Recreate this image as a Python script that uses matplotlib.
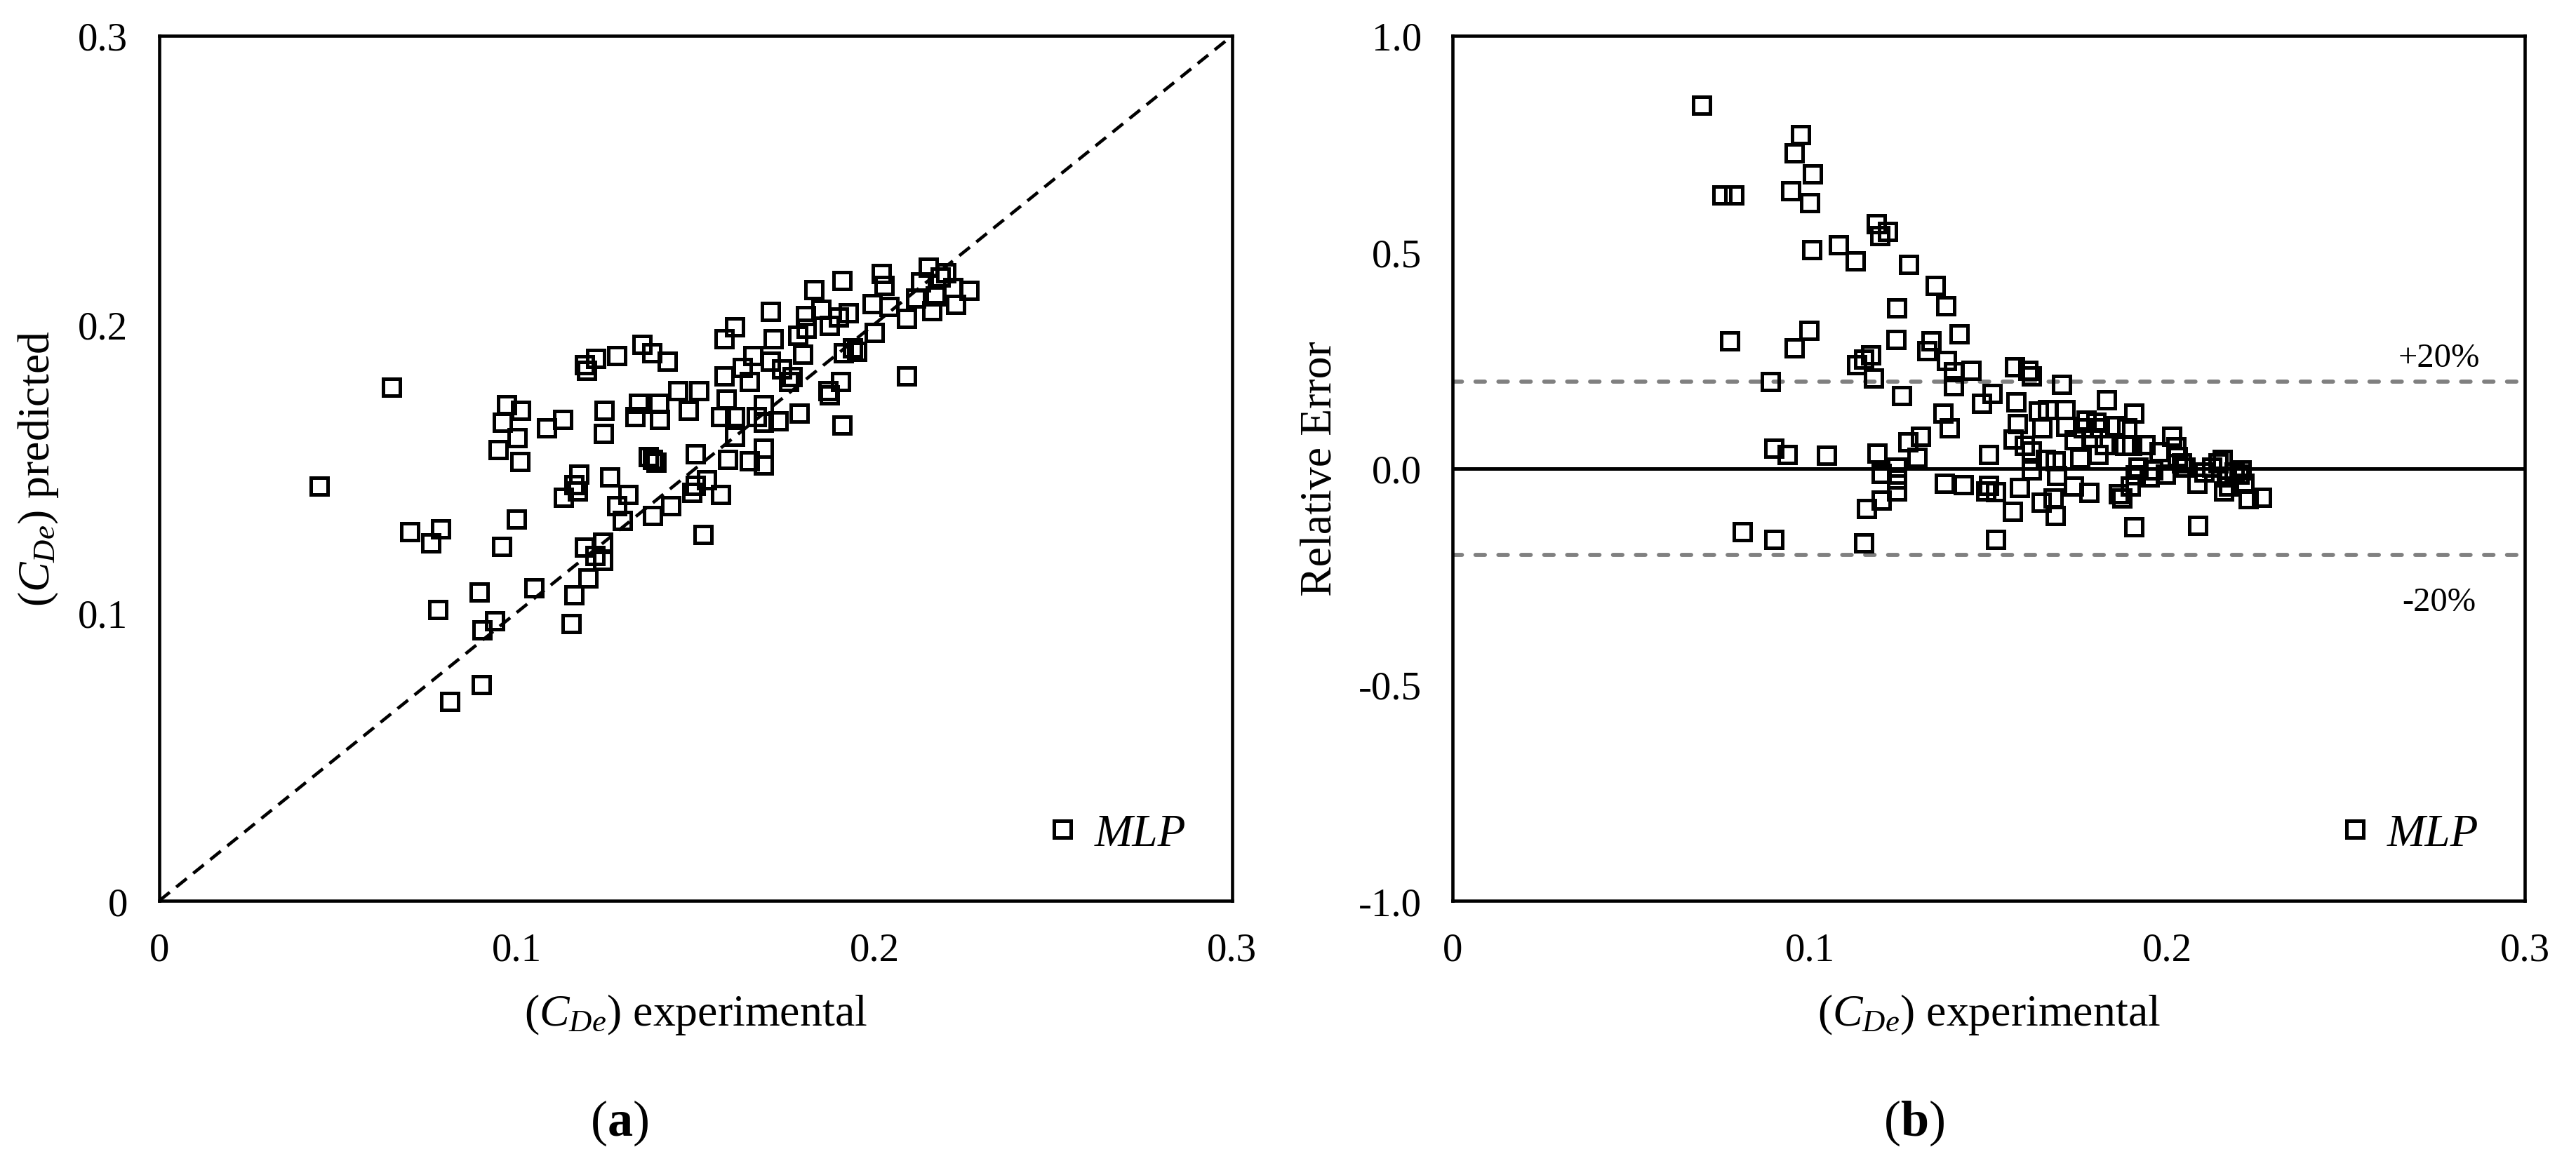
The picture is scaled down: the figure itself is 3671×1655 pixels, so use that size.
import matplotlib
matplotlib.use('Agg')
import matplotlib.pyplot as plt

plt.rcParams['font.family'] = ['Liberation Serif', 'DejaVu Serif']
plt.rcParams['mathtext.fontset'] = 'custom'
plt.rcParams['mathtext.rm'] = 'Liberation Serif'
plt.rcParams['mathtext.it'] = 'Liberation Serif:italic'
plt.rcParams['mathtext.bf'] = 'Liberation Serif:bold'

# (a) predicted vs experimental
exp_a = [0.0448, 0.065, 0.070, 0.076, 0.0788, 0.0779, 0.0813, 0.0894, 0.090, 0.0903,
         0.0939, 0.0948, 0.0959, 0.0972, 0.0957, 0.100, 0.101, 0.1008, 0.0999, 0.1049,
         0.1083, 0.1128, 0.113, 0.1152, 0.116, 0.1159, 0.1173, 0.117, 0.119, 0.1195,
         0.122, 0.120, 0.119, 0.1218, 0.124, 0.124, 0.1245, 0.1242, 0.126, 0.128,
         0.128, 0.1296, 0.131, 0.133, 0.134, 0.135, 0.1377, 0.1368, 0.138, 0.138,
         0.1398, 0.140, 0.139, 0.142, 0.143, 0.145, 0.148, 0.149, 0.150, 0.151,
         0.150, 0.152, 0.153, 0.157, 0.157, 0.158, 0.158, 0.159, 0.1585, 0.161,
         0.161, 0.161, 0.163, 0.165, 0.165, 0.166, 0.167, 0.169, 0.169, 0.169,
         0.169, 0.171, 0.1717, 0.171, 0.173, 0.174, 0.176, 0.177, 0.1785, 0.179,
         0.180, 0.1807, 0.181, 0.183, 0.185, 0.187, 0.1875, 0.1875, 0.190, 0.1906,
         0.191, 0.191, 0.1913, 0.1927, 0.1938, 0.195, 0.1994, 0.200, 0.202, 0.2028,
         0.204, 0.209, 0.209, 0.2116, 0.213, 0.215, 0.216, 0.217, 0.2185, 0.220,
         0.222, 0.2228, 0.2264]
pred_a = [0.1437, 0.178, 0.128, 0.124, 0.129, 0.101, 0.069, 0.107, 0.075, 0.094,
          0.097, 0.1565, 0.166, 0.172, 0.123, 0.1606, 0.170, 0.1524, 0.1324, 0.1085,
          0.1639, 0.1669, 0.140, 0.0962, 0.106, 0.1443, 0.148, 0.142, 0.186, 0.184,
          0.188, 0.112, 0.1226, 0.1198, 0.1244, 0.118, 0.170, 0.162, 0.147, 0.189,
          0.137, 0.132, 0.141, 0.168, 0.1726, 0.193, 0.190, 0.154, 0.153, 0.1335,
          0.1726, 0.167, 0.152, 0.187, 0.137, 0.177, 0.170, 0.1415, 0.144, 0.177,
          0.155, 0.127, 0.146, 0.141, 0.168, 0.195, 0.182, 0.153, 0.174, 0.199,
          0.168, 0.161, 0.185, 0.180, 0.1526, 0.189, 0.168, 0.172, 0.166, 0.157,
          0.151, 0.2045, 0.195, 0.187, 0.1665, 0.1845, 0.180, 0.1817, 0.196, 0.169,
          0.1895, 0.203, 0.1986, 0.212, 0.205, 0.177, 0.1754, 0.1995, 0.2025, 0.180,
          0.215, 0.165, 0.190, 0.204, 0.1917, 0.1904, 0.207, 0.197, 0.2175, 0.2134,
          0.206, 0.2019, 0.182, 0.209, 0.2145, 0.2197, 0.2047, 0.2098, 0.2163, 0.2177,
          0.2127, 0.2069, 0.2116]

# (b) relative error vs experimental
exp_b = [0.0697, 0.0753, 0.0788, 0.0776, 0.081, 0.089, 0.090, 0.090, 0.0936, 0.0947,
         0.0956, 0.0974, 0.0956, 0.0999, 0.1008, 0.0997, 0.1006, 0.1047, 0.1079, 0.1127,
         0.113, 0.115, 0.117, 0.115, 0.1159, 0.1177, 0.1188, 0.1186, 0.1195, 0.1218,
         0.120, 0.120, 0.1243, 0.124, 0.1243, 0.1243, 0.1243, 0.1257, 0.1277, 0.1275,
         0.130, 0.131, 0.1327, 0.1338, 0.135, 0.1373, 0.138, 0.1382, 0.1377, 0.139,
         0.1402, 0.1402, 0.1418, 0.143, 0.145, 0.148, 0.150, 0.1493, 0.151, 0.152,
         0.152, 0.150, 0.1566, 0.1568, 0.1573, 0.1577, 0.158, 0.1587, 0.160, 0.161,
         0.162, 0.162, 0.162, 0.164, 0.1648, 0.165, 0.166, 0.1664, 0.168, 0.1687,
         0.1687, 0.169, 0.1705, 0.1714, 0.1716, 0.174, 0.1737, 0.1755, 0.1766, 0.1773,
         0.178, 0.179, 0.180, 0.1807, 0.181, 0.1823, 0.183, 0.1853, 0.1864, 0.1873,
         0.188, 0.1887, 0.1896, 0.190, 0.1907, 0.1907, 0.191, 0.1919, 0.1937, 0.195,
         0.196, 0.1978, 0.1994, 0.2012, 0.2024, 0.2028, 0.204, 0.205, 0.2083, 0.2085,
         0.2103, 0.2124, 0.2142, 0.2153, 0.2158, 0.2165, 0.2172, 0.2188, 0.220, 0.2215,
         0.2226, 0.2263, 0.2206]
err_b = [0.839, 0.631, 0.632, 0.294, -0.146, 0.201, 0.046, -0.165, 0.032, 0.641,
         0.729, 0.771, 0.279, 0.614, 0.680, 0.318, 0.505, 0.030, 0.517, 0.479,
         0.240, 0.252, 0.262, -0.172, -0.093, 0.208, 0.035, 0.566, 0.537, 0.548,
         -0.012, -0.074, 0.370, 0.298, 0.003, -0.025, -0.052, 0.168, 0.472, 0.061,
         0.025, 0.074, 0.271, 0.295, 0.423, 0.127, 0.375, 0.249, -0.035, 0.093,
         0.191, 0.223, 0.310, -0.038, 0.227, 0.150, 0.032, -0.052, 0.172, -0.165,
         -0.055, -0.040, -0.100, 0.067, 0.234, 0.153, 0.103, -0.045, 0.052, 0.226,
         0.214, 0.040, -0.004, 0.133, -0.078, 0.094, 0.020, 0.135, -0.069, -0.110,
         0.017, -0.017, 0.194, 0.136, 0.096, 0.065, -0.041, 0.023, 0.093, 0.111,
         -0.056, 0.071, 0.106, 0.032, 0.093, 0.054, 0.158, 0.098, -0.059, -0.069,
         0.052, 0.093, -0.042, 0.052, 0.127, -0.136, -0.016, 0.003, 0.055, -0.020,
         -0.004, 0.038, -0.013, 0.074, 0.049, 0.027, 0.013, 0.003, -0.035, -0.132,
         -0.009, 0.003, 0.013, 0.020, -0.052, -0.020, -0.041, -0.009, -0.013, -0.035,
         -0.071, -0.067, -0.004]

ticks_a = [0, 0.1, 0.2, 0.3]
ticklabels_a = ['0', '0.1', '0.2', '0.3']
ticks_err = [-1.0, -0.5, 0.0, 0.5, 1.0]
ticklabels_err = ['-1.0', '-0.5', '0.0', '0.5', '1.0']
band = 0.2

fig = plt.figure(figsize=(36.71, 16.56), dpi=100)
ax1 = fig.add_axes([0.0618, 0.224, 0.4165, 0.7446])
ax2 = fig.add_axes([0.5639, 0.224, 0.4162, 0.7446])

mk = dict(marker='s', ms=17.5, mfc='none', mec='black', mew=3.6, ls='none')

# Panel (a)
ax1.plot([0, 0.3], [0, 0.3], color='black', lw=3.3, dashes=[4.2, 2.6])
ax1.plot(exp_a, pred_a, label='MLP', **mk)
ax1.set_xlim(0, 0.3)
ax1.set_ylim(0, 0.3)
ax1.set_xticks(ticks_a)
ax1.set_xticklabels(ticklabels_a)
ax1.set_yticks(ticks_a)
ax1.set_yticklabels(ticklabels_a)
ax1.set_xlabel(r'$(C_{De})$ experimental', fontsize=46, labelpad=24)
ax1.set_ylabel(r'$(C_{De})$ predicted', fontsize=46, labelpad=18)

# Panel (b)
ax2.axhline(0, color='black', lw=3.6)
ax2.axhline(band, color='#808080', lw=4.2, dashes=[2.3, 3.3], dash_capstyle='round')
ax2.axhline(-band, color='#808080', lw=4.2, dashes=[2.3, 3.3], dash_capstyle='round')
ax2.plot(exp_b, err_b, label='MLP', **mk)
ax2.text(0.276, 0.256, '+20%', fontsize=35, ha='center', va='center')
ax2.text(0.276, -0.309, '-20%', fontsize=35, ha='center', va='center')
ax2.set_xlim(0, 0.3)
ax2.set_ylim(-1.0, 1.0)
ax2.set_xticks(ticks_a)
ax2.set_xticklabels(ticklabels_a)
ax2.set_yticks(ticks_err)
ax2.set_yticklabels(ticklabels_err)
ax2.set_xlabel(r'$(C_{De})$ experimental', fontsize=46, labelpad=24)
ax2.set_ylabel('Relative Error', fontsize=46, labelpad=18)

for ax in (ax1, ax2):
    ax.tick_params(length=0, labelsize=41, pad=32)
    for s in ax.spines.values():
        s.set_linewidth(3.3)
    ax.legend(loc='lower right', frameon=False, handlelength=0.6,
              handletextpad=0.4, borderaxespad=0.6, prop={'style': 'italic', 'size': 47})

fig.text(0.2405, 0.012, r'($\mathbf{a}$)', fontsize=52, ha='center', va='bottom')
fig.text(0.743, 0.012, r'($\mathbf{b}$)', fontsize=52, ha='center', va='bottom')

fig.savefig('out.png', dpi=100)
